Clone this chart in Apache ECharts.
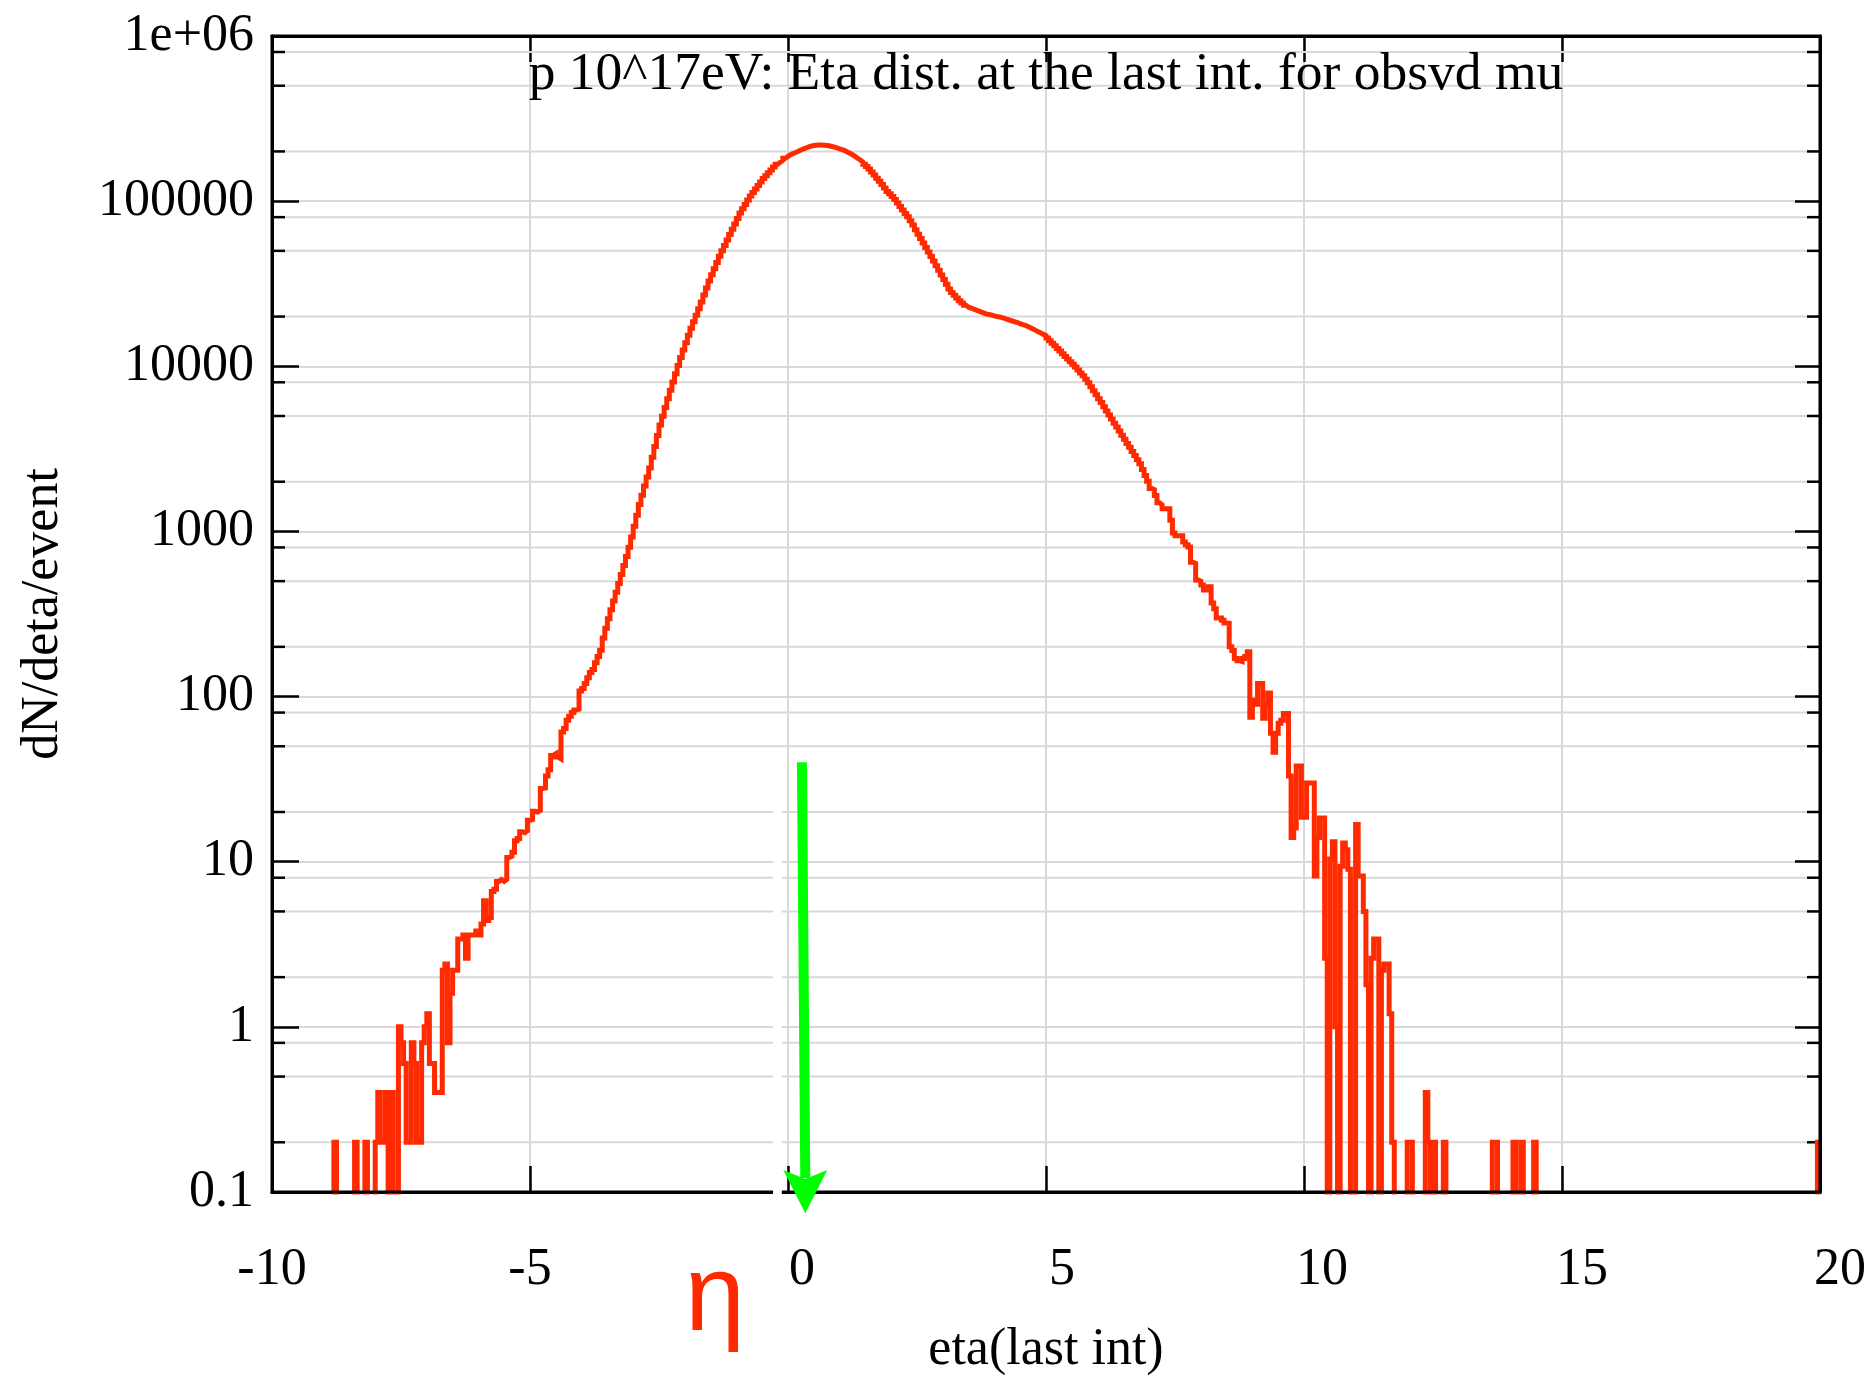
<!DOCTYPE html>
<html><head><meta charset="utf-8">
<script src="https://cdn.jsdelivr.net/npm/echarts@6/dist/echarts.min.js"></script>
<style>html,body{margin:0;padding:0;background:#fff}#c{width:1864px;height:1377px}</style>
</head><body><div id="c"></div>
<script>
// ---- data ----
const etaMin = -10, etaMax = 20, binWidth = 0.05;
const xTickLabels = ['-10','-5','0','5','10','15','20'];
const yTickLabels = ['0.1','1','10','100','1000','10000','100000','1e+06'];
const minorGridValues = [0.2,0.5,0.8,2,5,8,20,50,80,200,500,800,2000,5000,8000,20000,50000,80000,200000,500000,800000];
const titleText = 'p 10^17eV: Eta dist. at the last int. for obsvd mu';
const xName = 'eta(last int)';
const yName = 'dN/deta/event';
const etaSymbol = 'η';
// annotation (arrow) in data units
const arrowTopEta = 0.27, arrowTopValue = 40, arrowTipEta = 0.335, arrowBaseValue = 0.136, arrowTipValue = 0.0743;
const gapEtaLeft = -0.29, gapEtaRight = -0.12, gapTopValue = 42, gapBottomValue = 0.094;

// bin contents, bins of 0.05 starting at eta = -10
const leftTail = [
0,0,0,0,0,0,0,0,0,0,
0,0,0,0,0,0,0,0,0,0,
0,0,0,0,0.2,0,0,0,0,0,
0,0,0.2,0,0,0,0.2,0,0,0,
0.2,0.4,0.2,0.2,0.4,0,0.4,0,0,1.0,
0.8,0.6,0.2,0.2,0.8,0.6,0.2,0.2,0.8,1.0,
1.2,0.6,0.6,0.4,0.4,0.4,2.2,2.4,0.8,1.6,
2.2,2.2,3.4,3.4,3.6,2.6,3.6,3.6,3.6,3.8,
3.6,4.2,5.8,4.4,4.6,6.6,6.8,7.6,7.8,7.6,
7.8,10.6,10.8,11.4,13.4,13.8,15.2,15.0,15.4,17.8];
const risingEdge = [
18.0,20.2,20.0,20.4,27.8,28.0,33,36,44,45,
43,42,61,64,72,76,80,83,84,108,
112,120,130,140,146,160,175,191];
const core = [
226,259,296,336,379,428,483,548,622,706,
801,925,1076,1253,1456,1658,1882,2136,2424,2812,
3273,3810,4416,4989,5623,6353,7161,8035,9016,10116,
11300,12530,13870,15420,16980,18580,20370,22290,24490,27040,
29790,32810,35810,39000,42560,46340,50000,53950,58080,62810,
67600,72780,78520,84700,89950,95500,101600,107400,112700,118500,
124500,130600,137100,142600,148600,154500,160700,167100,171800,176600,
181600,186600,191000,194100,197200,200400,204200,207000,209900,212800,
215300,217300,218300,218800,218800,218300,217300,216300,214300,212300,
209900,207500,205100,202300,198600,195000,191000,186600,182000,177400,
172600,167500,162200,156300,150000,143900,137700,131800,125900,120200,
114300,110700,106700,102300,97500,92900,88500,84300,80400,76200,
71600,67100,63100,59300,55700,52400,49200,46200,43400,40600,
38100,35700,33500,31400,29400,28000,26900,25900,24900,24200,
23400,22800,22500,22200,21900,21600,21300,21000,20700,20600,
20400,20200,20000,19900,19700,19500,19200,19000,18800,18600,
18400,18100,17900,17700,17400,17100,16800,16500,16200,15900,
15600,15350,14860,14290,13800,13300,12820,12360,11910,11480,
11070,10670,10280,9890,9510,9120,8750,8360,7940,7520,
7110,6730,6370,6030,5690,5370,5070,4790,4520,4290,
4050,3820,3610,3410,3230,3050,2880,2720,2570,2370,
2180,2010,1820,1790,1650,1490,1450,1370,1370,1370,
1170,980,940,940,940,863,830,805,650,640,
508,500,474,442,442,462,369,340,299,299,
290,279];
const rightTail = [
278,200,190,170,165,163,170,175,187,75,
95,90,120,120,74,90,105,60,46,60,
69,72,79,79,33,14,16,38,38,18.6,
18.6,30,30,30,8.2,14,18.4,18.4,2.6,0,
10.4,13.2,1.0,0,9.4,13.0,11.8,9.0,0,0,
16.8,8.2,8.2,5.0,1.8,0,2.6,3.4,3.4,0,
2.2,2.4,2.4,1.2,0.2,0,0,0,0,0,
0.2,0.2,0,0,0,0,0,0.4,0.2,0,
0.2,0,0,0,0.2,0,0,0,0,0,
0,0,0,0,0,0,0,0,0,0,
0,0,0,0.2,0.2,0,0,0,0,0,
0,0.2,0,0,0.2,0,0,0,0,0.2];
const farTail = [
0,0,0,0,0,0,0,0,0,0,
0,0,0,0,0,0,0,0,0,0,
0,0,0,0,0,0,0,0,0,0,
0,0,0,0,0,0,0,0,0,0,
0,0,0,0,0,0,0,0,0,0,
0,0,0,0,0,0,0,0,0,0,
0,0,0,0,0,0,0,0,0,0,
0,0,0,0,0,0,0,0,0,0,
0,0,0,0,0,0,0,0,0,0,
0,0,0,0,0,0,0,0,0,0,
0,0,0,0,0,0,0,0,0,0.2];

const counts = [].concat(leftTail, risingEdge, core, rightTail, farTail);
const EMPTY = 1e-4; // empty bins fall below the log axis and are clipped
const stepData = counts.map((v, k) => [etaMin + k * binWidth, v > 0 ? v : EMPTY]);
stepData.push([etaMax, counts[counts.length - 1] > 0 ? counts[counts.length - 1] : EMPTY]);

// ---- style ----
const SERIF = 'Liberation Serif';
const RED = '#ff2a00';
const GREEN = '#00ff00';
const GRID = '#d9d9d9';
const FS = 52;
const lbl = (pad) => ({fontFamily: SERIF, fontSize: FS, color: '#000', padding: [0, 0, 0, pad]});

const chart = echarts.init(document.getElementById('c'), null, {renderer: 'canvas'});
const option = {
  animation: false,
  backgroundColor: '#fff',
  textStyle: {fontFamily: SERIF},
  grid: {left: 272, top: 36, width: 1548, height: 1156, show: false, containLabel: false, outerBoundsMode: 'none'},
  xAxis: [{
    type: 'value', position: 'bottom', min: etaMin, max: etaMax, interval: 5,
    axisLine: {show: true, onZero: false, lineStyle: {color: '#000', width: 3}},
    axisTick: {show: true, inside: true, length: 26, lineStyle: {color: '#000', width: 2.5}},
    splitLine: {show: true, lineStyle: {color: GRID, width: 2}},
    axisLabel: {
      margin: 52, showMinLabel: true, showMaxLabel: true, hideOverlap: false,
      formatter: (v) => {
        const i = Math.round((v - etaMin) / 5);
        const s = xTickLabels[i];
        return v < 0 ? '{n|' + s + '}' : '{p' + i + '|' + s + '}';
      },
      rich: {n: lbl(0), p2: lbl(28), p3: lbl(32), p4: lbl(36), p5: lbl(40), p6: lbl(40)}
    },
    name: xName, nameLocation: 'middle', nameGap: 158,
    nameTextStyle: {fontFamily: SERIF, fontSize: FS, color: '#000', verticalAlign: 'middle'}
  }, {
    type: 'value', position: 'top', min: etaMin, max: etaMax, interval: 5,
    axisLine: {show: true, onZero: false, lineStyle: {color: '#000', width: 3}},
    axisTick: {show: true, inside: true, length: 26, lineStyle: {color: '#000', width: 2.5}},
    splitLine: {show: false}, axisLabel: {show: false}
  }],
  yAxis: [{
    type: 'log', logBase: 10, position: 'left', min: 0.1, max: 1e6, splitNumber: 7,
    axisLine: {show: true, onZero: false, lineStyle: {color: '#000', width: 3}},
    axisTick: {show: true, inside: true, length: 27, lineStyle: {color: '#000', width: 2.5}},
    splitLine: {show: true, lineStyle: {color: GRID, width: 2}},
    axisLabel: {
      margin: 18, fontFamily: SERIF, fontSize: FS, color: '#000', showMinLabel: true, showMaxLabel: true,
      formatter: (v) => yTickLabels[Math.round(Math.log10(v)) + 1]
    },
    name: yName, nameLocation: 'middle', nameGap: 229, nameRotate: 90,
    nameTextStyle: {fontFamily: SERIF, fontSize: FS, color: '#000', verticalAlign: 'middle'}
  }, {
    type: 'log', logBase: 10, position: 'right', min: 0.1, max: 1e6, splitNumber: 7,
    axisLine: {show: true, onZero: false, lineStyle: {color: '#000', width: 3}},
    axisTick: {show: true, inside: true, length: 25, lineStyle: {color: '#000', width: 2.5}},
    splitLine: {show: false}, axisLabel: {show: false}
  }],
  series: [{
    type: 'custom', name: 'minor', silent: true, z: 1,
    xAxisIndex: 0, yAxisIndex: 0,
    data: minorGridValues.map(v => [etaMin, v]),
    encode: {x: 0, y: 1},
    renderItem: (params, api) => {
      const p = api.coord([etaMin, api.value(1)]);
      const cs = params.coordSys;
      return {type: 'group', children: [
        {type: 'line', shape: {x1: cs.x, y1: p[1], x2: cs.x + cs.width, y2: p[1]}, style: {stroke: GRID, lineWidth: 2}},
        {type: 'line', shape: {x1: cs.x, y1: p[1], x2: cs.x + 13, y2: p[1]}, style: {stroke: '#000', lineWidth: 2.5}},
        {type: 'line', shape: {x1: cs.x + cs.width - 13, y1: p[1], x2: cs.x + cs.width, y2: p[1]}, style: {stroke: '#000', lineWidth: 2.5}}
      ]};
    }
  }, {
    type: 'line', name: 'dN/deta', xAxisIndex: 0, yAxisIndex: 0, z: 3,
    data: stepData, step: 'end', showSymbol: false, symbol: 'none', clip: true,
    lineStyle: {color: RED, width: 5, join: 'miter'},
    silent: true
  }]
};
chart.setOption(option);

const px = (x, y) => chart.convertToPixel({xAxisIndex: 0, yAxisIndex: 0}, [x, y]);
const tl = px(etaMin, 1e6), br = px(etaMax, 0.1);
const gA = px(gapEtaLeft, gapTopValue), gB = px(gapEtaRight, gapBottomValue);
const aTop = px(arrowTopEta, arrowTopValue), aBase = px(arrowTipEta, arrowBaseValue), aTip = px(arrowTipEta, arrowTipValue);
const cx = (tl[0] + br[0]) / 2;

chart.setOption({graphic: [
  {type: 'rect', silent: true, z: 10, shape: {x: tl[0], y: tl[1], width: br[0] - tl[0], height: br[1] - tl[1]},
   style: {fill: 'none', stroke: '#000', lineWidth: 3}},
  {type: 'rect', silent: true, z: 11, shape: {x: gA[0], y: gA[1], width: gB[0] - gA[0], height: gB[1] - gA[1]},
   style: {fill: '#fff'}},
  {type: 'line', silent: true, z: 12, shape: {x1: aTop[0], y1: aTop[1], x2: aBase[0], y2: aBase[1] + 8},
   style: {stroke: GREEN, lineWidth: 10, lineCap: 'butt'}},
  {type: 'polygon', silent: true, z: 12,
   shape: {points: [[aBase[0] - 22, aBase[1]], [aTip[0], aTip[1]], [aBase[0] + 22, aBase[1]], [aBase[0], aBase[1] + 9]]},
   style: {fill: GREEN}},
  {type: 'text', silent: true, z: 12, x: cx, y: 75,
   style: {text: titleText, font: '53.5px "' + SERIF + '"', fill: '#000', align: 'center', verticalAlign: 'middle'}},
  {type: 'text', silent: true, z: 12, x: 715, y: 1300,
   style: {text: etaSymbol, font: '108px "Liberation Sans"', fill: RED, align: 'center', verticalAlign: 'middle'}}
]});
</script>
</body></html>
